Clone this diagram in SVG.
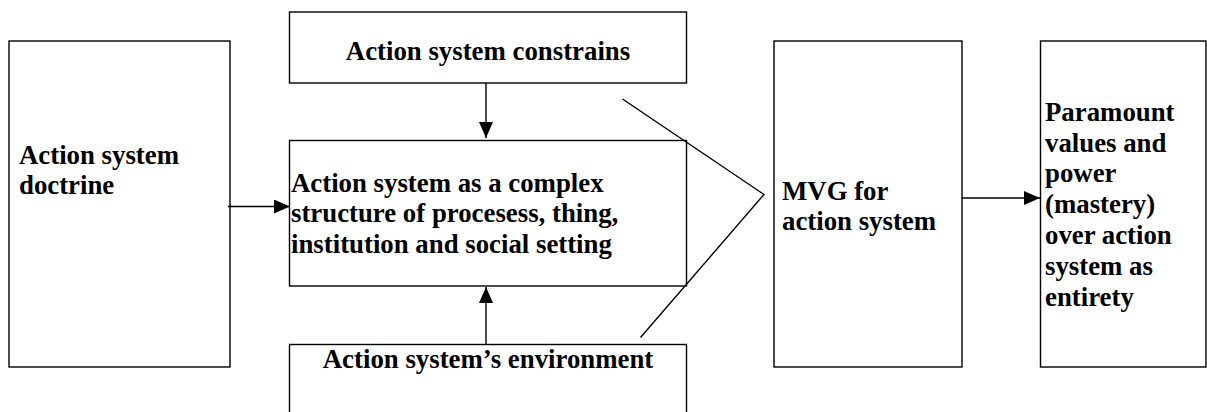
<svg xmlns="http://www.w3.org/2000/svg" width="1207" height="412" viewBox="0 0 1207 412">
<style>
.box{fill:#fff;stroke:#000;stroke-width:1.4}
.t{font-family:"Liberation Serif","Times New Roman",serif;font-weight:bold;font-size:26.8px;fill:#000}
.c{text-anchor:middle}
.ln{fill:none;stroke:#000;stroke-width:1.4}
</style>
<defs>
<marker id="ah" markerWidth="16" markerHeight="14" refX="16" refY="7" orient="auto" markerUnits="userSpaceOnUse">
<path d="M0,0 L16,7 L0,14 Z" fill="#000"/>
</marker>
</defs>
<rect width="1207" height="412" fill="#fff"/>
<g id="doctrine">
<rect class="box" x="9" y="41" width="221" height="326"/>
<text class="t" x="19" y="164">Action system</text>
<text class="t" x="19" y="194">doctrine</text>
</g>
<g id="constrains">
<rect class="box" x="289.5" y="12" width="397" height="71"/>
<text class="t c" x="488" y="60">Action system constrains</text>
</g>
<g id="structure">
<rect class="box" x="289.5" y="140.5" width="397" height="145.5"/>
<text class="t" x="291" y="192">Action system as a complex</text>
<text class="t" x="291" y="222">structure of procesess, thing,</text>
<text class="t" x="291" y="253">institution and social setting</text>
</g>
<g id="environment">
<rect class="box" x="289.5" y="344.5" width="397" height="80"/>
<text class="t c" x="488" y="368">Action system’s environment</text>
</g>
<g id="mvg">
<rect class="box" x="774" y="41" width="188" height="326"/>
<text class="t" x="782" y="200">MVG for</text>
<text class="t" x="782" y="230">action system</text>
</g>
<g id="paramount">
<rect class="box" x="1040.5" y="41" width="165.5" height="326"/>
<text class="t" x="1045" y="121">Paramount</text>
<text class="t" x="1045" y="152">values and</text>
<text class="t" x="1045" y="182">power</text>
<text class="t" x="1045" y="213">(mastery)</text>
<text class="t" x="1045" y="244">over action</text>
<text class="t" x="1045" y="275">system as</text>
<text class="t" x="1045" y="306">entirety</text>
</g>
<g id="connectors">
<line class="ln" x1="228" y1="206.5" x2="290" y2="206.5" marker-end="url(#ah)"/>
<line class="ln" x1="486" y1="83" x2="486" y2="138" marker-end="url(#ah)"/>
<line class="ln" x1="486" y1="344.5" x2="486" y2="287" marker-end="url(#ah)"/>
<line class="ln" x1="962" y1="198" x2="1040" y2="198" marker-end="url(#ah)"/>
<polyline class="ln" points="622.5,99 764,194.5 640.5,337.5"/>
</g>
</svg>
